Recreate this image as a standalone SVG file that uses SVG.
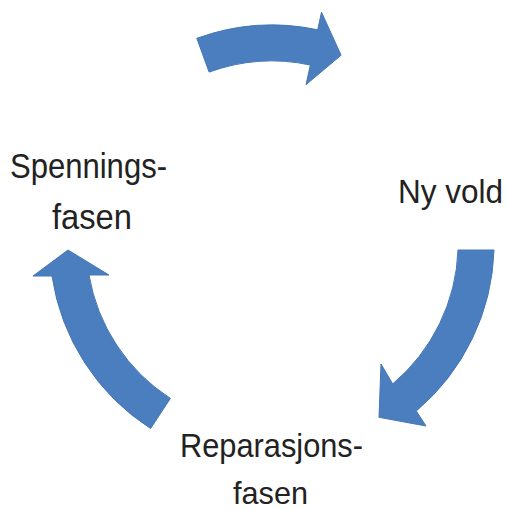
<svg xmlns="http://www.w3.org/2000/svg" width="507" height="510" viewBox="0 0 507 510">
  <style>
    .lbl { font-family: "Liberation Sans", Arial, sans-serif; fill: #222222; }
    .arr { fill: #4A7EBF; stroke: #4577B6; stroke-width: 1; stroke-linejoin: miter; }
  </style>
  <rect width="507" height="510" fill="#ffffff"/>
  <g id="connectors">
    <path class="arr" d="M196.8,38.3 A220,220 0 0 1 317.7,29.8 L321.5,12.2 L341.1,55.2 L306.1,84.6 L310.3,65.0 A184,184 0 0 0 209.1,72.1 Z"/>
    <path class="arr" d="M494,250 A220,220 0 0 1 416.3,411.0 L426,426 L379.0,417.3 L381,364 L392.7,383.9 A184,184 0 0 0 458,250 Z"/>
    <path class="arr" d="M150.6,428.5 A220,220 0 0 1 52,276 L33,276 L68,250 L109,275 L89,275 A184,184 0 0 0 170.4,398.4 Z"/>
  </g>
  <g id="node-spenningsfasen">
    <text class="lbl" x="10" y="178" font-size="35" textLength="157" lengthAdjust="spacingAndGlyphs">Spennings-</text>
    <text class="lbl" x="52" y="229" font-size="35" textLength="80" lengthAdjust="spacingAndGlyphs">fasen</text>
  </g>
  <g id="node-ny-vold">
    <text class="lbl" x="398" y="203" font-size="33" textLength="105" lengthAdjust="spacingAndGlyphs">Ny vold</text>
  </g>
  <g id="node-reparasjonsfasen">
    <text class="lbl" x="180" y="457" font-size="34" textLength="183" lengthAdjust="spacingAndGlyphs">Reparasjons-</text>
    <text class="lbl" x="233" y="504" font-size="32" textLength="75" lengthAdjust="spacingAndGlyphs">fasen</text>
  </g>
</svg>
